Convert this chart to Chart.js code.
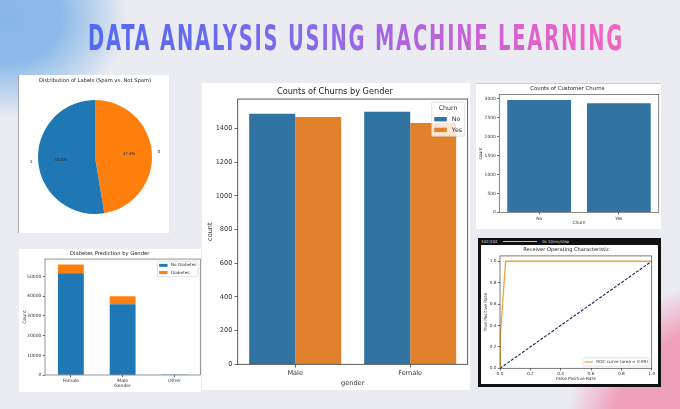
<!DOCTYPE html>
<html>
<head>
<meta charset="utf-8">
<script src="https://cdn.jsdelivr.net/npm/chart.js@4.4.1/dist/chart.umd.min.js"></script>
<style>
  html, body { margin: 0; padding: 0; }
  body {
    width: 680px; height: 409px; overflow: hidden; position: relative;
    font-family: "DejaVu Sans", sans-serif;
    background:
      radial-gradient(circle at 722px 440px, #efa1bb 0px, #efa1bb 112px, rgba(239,161,187,0) 158px),
      radial-gradient(ellipse 120px 100px at 8px 18px, #86b6e8 0%, #8dbbe9 45%, rgba(235,235,243,0) 100%),
      #ebebf2;
  }
  #headline {
    position: absolute; left: 0; top: 20px;
    white-space: nowrap;
    font-family: "DejaVu Sans Condensed", "DejaVu Sans", sans-serif;
    font-stretch: condensed;
    font-weight: bold; font-size: 36px; line-height: 36px; letter-spacing: 3px;
    background: linear-gradient(90deg, #4f6af0 0%, #786cec 35%, #a566e2 55%, #cf62d2 76%, #f564c0 100%);
    -webkit-background-clip: text; background-clip: text; color: transparent;
    transform-origin: 0 0;
  }
  .panel { position: absolute; background: #fff; }
  .panel canvas { position: absolute; left: 0; top: 0; }
  #pieBox { left: 18px; top: 75px; width: 151px; height: 158px; box-shadow: inset 1px 0 0 #a4a4ae; }
  #genderBox { left: 202px; top: 83px; width: 268px; height: 307px; }
  #countBox { left: 476px; top: 83px; width: 185px; height: 146px; box-shadow: inset 0 1px 0 #cfcfd6; }
  #diabBox { left: 19px; top: 249px; width: 182px; height: 143px; }
  #rocBox { left: 478px; top: 238px; width: 183px; height: 149px; background: #111; }
  #rocInner { position: absolute; left: 3px; top: 7px; width: 177px; height: 139px; background: #fff; }
  #rocBar { position: absolute; left: 3px; top: 1px; height: 6px; width: 177px; font-size: 4px; line-height: 6px; color: #ddd; white-space: nowrap; }
  #rocBar .bar { display: inline-block; width: 34px; height: 1px; background: #a9d6a9; vertical-align: middle; margin: 0 4px; }
</style>
</head>
<body>
<div id="headline">DATA ANALYSIS USING MACHINE LEARNING</div>

<div class="panel" id="pieBox"><canvas id="pieChart" width="151" height="158"></canvas></div>
<div class="panel" id="genderBox"><canvas id="genderChart" width="268" height="307"></canvas></div>
<div class="panel" id="countBox"><canvas id="countChart" width="185" height="146"></canvas></div>
<div class="panel" id="diabBox"><canvas id="diabChart" width="182" height="143"></canvas></div>
<div class="panel" id="rocBox">
  <div id="rocBar">102/102 <span class="bar"></span> 0s 10ms/step</div>
  <div id="rocInner"><canvas id="rocChart" width="177" height="139"></canvas></div>
</div>

<script>
/* DATA */
// Spam vs not spam
const spamLabels = ['0', '1'];
const spamShares = [47.4, 52.6];

// Churn by gender
const genders = ['Male', 'Female'];
const churnNo = [1488, 1500];
const churnYes = [1468, 1432];
const genderTicks = [0, 200, 400, 600, 800, 1000, 1200, 1400];

// Customer churn totals
const churnCats = ['No', 'Yes'];
const churnTotals = [2965, 2876];
const countTicks = [0, 500, 1000, 1500, 2000, 2500, 3000];

// Diabetes by gender
const diabGenders = ['Female', 'Male', 'Other'];
const noDiabetes = [51700, 35950, 18];
const withDiabetes = [4450, 4050, 0];
const diabTicks = [0, 10000, 20000, 30000, 40000, 50000];

// ROC curve
const rocFpr = [0, 0.002, 0.037, 1.0];
const rocTpr = [0, 0.30, 1.0, 1.0];
const chanceLine = [0, 1];
const rocArea = 0.99;
const rocTicks = [0, 0.2, 0.4, 0.6, 0.8, 1.0];

/*****************************************************************/

/* HEADLINE */
// squeeze the condensed font to the width of the original banner
const headline = document.getElementById('headline');
const hw = headline.offsetWidth - 3;
headline.style.transform = 'translateX(88px) scaleX(' + (534 / hw) + ')';

/*****************************************************************/

/* SHARED BITS */
Chart.defaults.font.family = '"DejaVu Sans", sans-serif';
Chart.defaults.color = '#333';
Chart.defaults.animation = false;

// matplotlib style box around the plot
const mplFrame = {
    id: 'mplFrame',
    afterDatasetsDraw(chart, args, opts) {
        const a = chart.chartArea;
        const ctx = chart.ctx;
        ctx.save();
        ctx.strokeStyle = opts.color || '#333';
        ctx.lineWidth = opts.width || 0.8;
        ctx.strokeRect(a.left, a.top, a.right - a.left, a.bottom - a.top);
        ctx.restore();
    }
};

// matplotlib style legend box in a corner of the plot
const boxLegend = {
    id: 'boxLegend',
    afterDraw(chart, args, opts) {
        const ctx = chart.ctx;
        const a = chart.chartArea;
        const fs = opts.size;
        const items = chart.data.datasets.filter(ds => ds.label);
        ctx.save();
        ctx.font = fs + 'px "DejaVu Sans"';
        const pad = 0.4 * fs, handle = 2 * fs, gap = 0.8 * fs, rowH = 1.2 * fs, space = 0.5 * fs, edge = 0.5 * fs;
        const textW = Math.max(...items.map(ds => ctx.measureText(ds.label).width));
        const titleW = opts.title ? ctx.measureText(opts.title).width : 0;
        const w = Math.max(handle + gap + textW, titleW) + 2 * pad;
        const rows = items.length + (opts.title ? 1 : 0);
        const h = 2 * pad + rows * rowH + (rows - 1) * space;
        const x = a.right - edge - w;
        const y = opts.corner === 'bottom' ? a.bottom - edge - h : a.top + edge;

        ctx.beginPath();
        ctx.roundRect(x, y, w, h, 1.5);
        ctx.fillStyle = 'rgba(255,255,255,0.8)';
        ctx.fill();
        ctx.strokeStyle = '#d0d0d0';
        ctx.lineWidth = 0.6;
        ctx.stroke();

        let cy = y + pad + rowH / 2;
        ctx.textBaseline = 'middle';
        if (opts.title) {
            ctx.textAlign = 'center';
            ctx.fillStyle = '#333';
            ctx.fillText(opts.title, x + w / 2, cy);
            cy += rowH + space;
        }
        ctx.textAlign = 'left';
        items.forEach(ds => {
            if (opts.kind === 'line') {
                ctx.strokeStyle = ds.borderColor;
                ctx.lineWidth = 1.2;
                ctx.beginPath();
                ctx.moveTo(x + pad, cy);
                ctx.lineTo(x + pad + handle, cy);
                ctx.stroke();
            } else {
                ctx.fillStyle = ds.backgroundColor;
                ctx.fillRect(x + pad, cy - 0.35 * fs, handle, 0.7 * fs);
            }
            ctx.fillStyle = '#333';
            ctx.fillText(ds.label, x + pad + handle + gap, cy);
            cy += rowH + space;
        });
        ctx.restore();
    }
};

// label + percentage on each pie slice, like plt.pie(autopct=...)
const pieText = {
    id: 'pieText',
    afterDatasetsDraw(chart) {
        const ctx = chart.ctx;
        const meta = chart.getDatasetMeta(0);
        ctx.save();
        ctx.textBaseline = 'middle';
        ctx.fillStyle = '#222';
        meta.data.forEach((arc, i) => {
            const mid = (arc.startAngle + arc.endAngle) / 2;
            const r = arc.outerRadius;
            const cx = Math.cos(mid), sy = Math.sin(mid);
            ctx.font = '4.3px "DejaVu Sans"';
            ctx.textAlign = cx < 0 ? 'right' : 'left';
            ctx.fillText(chart.data.labels[i], arc.x + cx * r * 1.1, arc.y + sy * r * 1.1);
            ctx.font = '3.9px "DejaVu Sans"';
            ctx.textAlign = 'center';
            ctx.fillText(spamShares[i].toFixed(1) + '%', arc.x + cx * r * 0.6, arc.y + sy * r * 0.6);
        });
        ctx.restore();
    }
};

function xAxis(size, label, height, titlePad) {
    return {
        grid: { display: true, drawOnChartArea: false, offset: false, tickLength: size * 0.5, color: '#333', lineWidth: 0.7 },
        border: { display: false },
        ticks: { font: { size: size }, color: '#333', padding: size * 0.3, maxRotation: 0, autoSkip: false },
        title: { display: true, text: label, font: { size: size }, color: '#333', padding: { top: 0, bottom: titlePad } },
        afterFit(scale) { scale.height = height; }
    };
}

// value axis with fixed tick values and plain (no thousands comma) labels
function yAxis(size, label, width, titlePad, max, tickValues, digits) {
    return {
        min: 0,
        max: max,
        grid: { display: true, drawOnChartArea: false, tickLength: size * 0.5, color: '#333', lineWidth: 0.7 },
        border: { display: false },
        ticks: {
            font: { size: size }, color: '#333', padding: size * 0.3, autoSkip: false,
            callback: v => v.toFixed(digits || 0)
        },
        title: { display: true, text: label, font: { size: size }, color: '#333', padding: { top: titlePad, bottom: 0 } },
        afterBuildTicks(scale) { scale.ticks = tickValues.map(v => ({ value: v })); },
        afterFit(scale) { scale.width = width; }
    };
}

function chartTitle(text, size, top, bottom) {
    return { display: true, text: text, color: '#222', font: { size: size, weight: 'normal' }, padding: { top: top, bottom: bottom } };
}

/*****************************************************************/

/* PIE: SPAM VS NOT SPAM */
new Chart(document.getElementById('pieChart'), {
    type: 'pie',
    data: {
        labels: spamLabels,
        datasets: [{ data: spamShares, backgroundColor: ['#ff7f0e', '#1f77b4'], borderWidth: 0 }]
    },
    options: {
        responsive: false,
        layout: { padding: { left: 20, right: 17, top: 0, bottom: 19 } },
        plugins: {
            legend: { display: false },
            tooltip: { enabled: false },
            title: chartTitle('Distribution of Labels (Spam vs. Not Spam)', 5.2, 2.9, 15.9)
        }
    },
    plugins: [pieText]
});

/* BARS: CHURN BY GENDER */
const genderMax = Math.max(...churnNo, ...churnYes) * 1.05;
new Chart(document.getElementById('genderChart'), {
    type: 'bar',
    data: {
        labels: genders,
        datasets: [
            { label: 'No', data: churnNo, backgroundColor: '#3274a1' },
            { label: 'Yes', data: churnYes, backgroundColor: '#e1812c' }
        ]
    },
    options: {
        responsive: false,
        layout: { padding: { left: 0, right: 2.3, top: 0, bottom: 0 } },
        datasets: { bar: { categoryPercentage: 0.8, barPercentage: 1 } },
        scales: {
            x: xAxis(6.6, 'gender', 25.7, 3),
            y: yAxis(6.6, 'count', 35.7, 4, genderMax, genderTicks)
        },
        plugins: {
            legend: { display: false },
            tooltip: { enabled: false },
            title: chartTitle('Counts of Churns by Gender', 8.2, 4.1, 2.1),
            mplFrame: { color: '#333', width: 0.8 },
            boxLegend: { size: 6.3, title: 'Churn', corner: 'top' }
        }
    },
    plugins: [mplFrame, boxLegend]
});

/* BARS: CUSTOMER CHURN */
const countMax = Math.max(...churnTotals) * 1.05;
new Chart(document.getElementById('countChart'), {
    type: 'bar',
    data: {
        labels: churnCats,
        datasets: [{ data: churnTotals, backgroundColor: '#3274a1' }]
    },
    options: {
        responsive: false,
        layout: { padding: { left: 0, right: 2.3, top: 0, bottom: 0 } },
        datasets: { bar: { categoryPercentage: 0.8, barPercentage: 1 } },
        scales: {
            x: xAxis(4.4, 'Churn', 16.7, 3.3),
            y: yAxis(4.4, 'count', 23.3, 2, countMax, countTicks)
        },
        plugins: {
            legend: { display: false },
            tooltip: { enabled: false },
            title: chartTitle('Counts of Customer Churns', 5.4, 2.8, 2.1),
            mplFrame: { color: '#555', width: 0.7 }
        }
    },
    plugins: [mplFrame]
});

/* STACKED BARS: DIABETES BY GENDER */
const diabMax = Math.max(...noDiabetes.map((v, i) => v + withDiabetes[i])) * 1.05;
new Chart(document.getElementById('diabChart'), {
    type: 'bar',
    data: {
        labels: diabGenders,
        datasets: [
            { label: 'No Diabetes', data: noDiabetes, backgroundColor: '#1f77b4' },
            { label: 'Diabetes', data: withDiabetes, backgroundColor: '#ff7f0e' }
        ]
    },
    options: {
        responsive: false,
        layout: { padding: { left: 0, right: 0.7, top: 0, bottom: 0 } },
        datasets: { bar: { categoryPercentage: 1, barPercentage: 0.5 } },
        scales: {
            x: Object.assign(xAxis(4.5, 'Gender', 17, 3.3), { stacked: true }),
            y: Object.assign(yAxis(4.5, 'Count', 26, 3.3, diabMax, diabTicks), { stacked: true })
        },
        plugins: {
            legend: { display: false },
            tooltip: { enabled: false },
            title: chartTitle('Diabetes Prediction by Gender', 5.2, 1.9, 1.9),
            mplFrame: { color: '#666', width: 0.7 },
            boxLegend: { size: 4.2, corner: 'top' }
        }
    },
    plugins: [mplFrame, boxLegend]
});

/* LINES: ROC CURVE */
const rocX = yAxis(4.3, 'False Positive Rate', 0, 2.3, 1, rocTicks, 1);
rocX.type = 'linear';
rocX.grid = xAxis(4.3, '', 0, 0).grid;
rocX.title.padding = { top: 0, bottom: 2.3 };
rocX.afterFit = scale => { scale.height = 15.7; };

new Chart(document.getElementById('rocChart'), {
    type: 'scatter',
    data: {
        datasets: [
            {
                label: 'ROC curve (area = ' + rocArea.toFixed(2) + ')',
                data: rocFpr.map((x, i) => ({ x: x, y: rocTpr[i] })),
                showLine: true, borderColor: '#f2a23a', borderWidth: 1.3, pointRadius: 0
            },
            {
                label: null,
                data: chanceLine.map(v => ({ x: v, y: v })),
                showLine: true, borderColor: '#1e1e55', borderWidth: 1.1, borderDash: [3, 1.5], pointRadius: 0
            }
        ]
    },
    options: {
        responsive: false,
        layout: { padding: { left: 0, right: 6.3, top: 0, bottom: 0 } },
        scales: {
            x: rocX,
            y: yAxis(4.3, 'True Positive Rate', 19, 2.3, 1.05, rocTicks, 1)
        },
        plugins: {
            legend: { display: false },
            tooltip: { enabled: false },
            title: chartTitle('Receiver Operating Characteristic', 5.1, 1.9, 2.9),
            mplFrame: { color: '#444', width: 0.7 },
            boxLegend: { size: 4.2, corner: 'bottom', kind: 'line' }
        }
    },
    plugins: [mplFrame, boxLegend]
});
</script>
</body>
</html>
